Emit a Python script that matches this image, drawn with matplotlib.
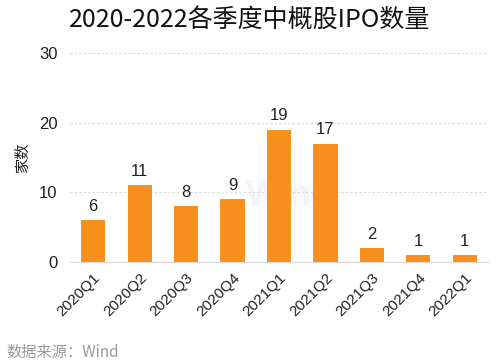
import matplotlib
matplotlib.use('Agg')
import matplotlib.pyplot as plt

plt.rcParams['font.family'] = ['Liberation Sans', 'Noto Sans CJK SC', 'DejaVu Sans']

quarters = ['2020Q1', '2020Q2', '2020Q3', '2020Q4', '2021Q1', '2021Q2', '2021Q3', '2021Q4', '2022Q1']
counts = [6, 11, 8, 9, 19, 17, 2, 1, 1]
yticks = [0, 10, 20, 30]

bar_color = '#F7901E'
cjk = ['Noto Sans CJK SC', 'DejaVu Sans']

fig = plt.figure(figsize=(5, 3.64), dpi=100)
ax = fig.add_axes([0.14, 0.28, 0.836, 0.574])

ax.bar(range(len(quarters)), counts, width=0.52, color=bar_color, zorder=3)
for i, v in enumerate(counts):
  ax.text(i, v + 0.9, str(v), ha='center', va='bottom', fontsize=12, color='#222222')

ax.set_xlim(-0.5, len(quarters) - 0.5)
ax.set_ylim(0, 30)
ax.set_yticks(yticks)
ax.set_yticklabels([str(t) for t in yticks], fontsize=12, color='#222222')
ax.set_xticks(range(len(quarters)))
ax.set_xticklabels(quarters, rotation=45, ha='right', rotation_mode='anchor', fontsize=11, color='#222222')
ax.tick_params(length=0, pad=9)
ax.tick_params(axis='x', pad=6)

ax.grid(axis='y', linestyle=(0, (2, 2)), color='#d9d9d9', linewidth=0.8, zorder=0)
for s in ['top', 'right', 'left']:
  ax.spines[s].set_visible(False)
ax.spines['bottom'].set_color('#d9d9d9')
ax.spines['bottom'].set_linewidth(0.8)

ax.set_ylabel('家数', fontsize=11, color='#222222', labelpad=6, family=cjk)

ax.text(290, 168, 'Wind', transform=None, ha='center', va='center', fontsize=26, fontweight='bold', color='#f3f3f3', zorder=1)

fig.text(0.5, 0.945, '2020-2022各季度中概股IPO数量', ha='center', va='center', fontsize=18, color='#111111', family=cjk)
fig.text(0.012, 0.033, '数据来源：Wind', ha='left', va='center', fontsize=11, color='#999999', family=cjk)

fig.savefig('out.png', dpi=100)
